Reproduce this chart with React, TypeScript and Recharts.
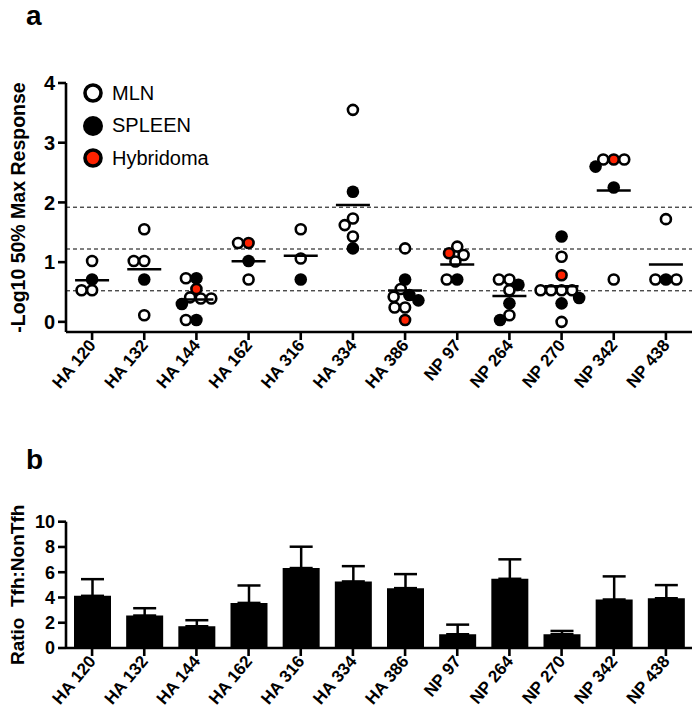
import React from "react";
import {
  ScatterChart, Scatter, BarChart, Bar, ErrorBar, XAxis, YAxis, ReferenceLine, Legend,
} from "recharts";

const FONT = '"Liberation Sans", Arial, Helvetica, sans-serif';
const RED = "#ff2200";

const CATEGORIES = [
  "HA 120", "HA 132", "HA 144", "HA 162", "HA 316", "HA 334",
  "HA 386", "NP 97", "NP 264", "NP 270", "NP 342", "NP 438",
];

// panel a: -log10 50% max response per clone, grouped by peptide
const MLN = [
  [1.02, 0.53, 0.53],
  [1.55, 1.02, 1.02, 0.11],
  [0.73, 0.41, 0.39, 0.39, 0.03],
  [1.32, 0.71],
  [1.55, 1.06],
  [3.55, 1.73, 1.62, 1.43],
  [1.23, 0.55, 0.42, 0.24, 0.24],
  [1.26, 1.12, 1.01, 0.71],
  [0.71, 0.71, 0.53, 0.11],
  [1.09, 0.53, 0.53, 0.53, 0.53, 0.0],
  [2.72, 2.72, 0.71],
  [1.72, 0.71, 0.71],
];
const SPLEEN = [
  [0.71],
  [0.71],
  [0.73, 0.3, 0.03],
  [1.02],
  [0.71],
  [2.18, 1.23],
  [0.71, 0.45, 0.36],
  [0.71],
  [0.62, 0.31, 0.03],
  [1.43, 0.4, 0.31],
  [2.6, 2.25],
  [0.71],
];
const HYBRIDOMA = [
  [], [], [0.55], [1.32], [], [], [0.03], [1.15], [], [0.78], [2.72], [],
];
const THRESHOLDS = [1.92, 1.22, 0.52];
const Y_TICKS_A = [0, 1, 2, 3, 4];

// panel b: Tfh / non-Tfh ratio, mean and upper error
const RATIO = [4.13, 2.57, 1.72, 3.57, 6.33, 5.27, 4.74, 1.09, 5.48, 1.09, 3.84, 3.94];
const RATIO_ERR = [1.32, 0.58, 0.48, 1.38, 1.69, 1.21, 1.11, 0.76, 1.54, 0.26, 1.83, 1.04];
const Y_TICKS_B = [0, 2, 4, 6, 8, 10];

const LEGEND = [
  { label: "MLN", kind: "open" },
  { label: "SPLEEN", kind: "filled" },
  { label: "Hybridoma", kind: "red" },
];

// simple beeswarm so dots in a column don't sit on top of each other
const PX_X = 626 / 12;
const PX_Y = 249 / 4.17;
const DOT = 10.5;

function swarm(values: number[]): number[] {
  const order = values.map((_, i) => i).sort((a, b) => values[b] - values[a]);
  const placed: { x: number; y: number }[] = [];
  const out = new Array(values.length).fill(0);
  for (const i of order) {
    const y = values[i] * PX_Y;
    const cands = [0];
    for (const p of placed) {
      const dy = Math.abs(y - p.y);
      if (dy < DOT) {
        const dx = Math.sqrt(DOT * DOT - dy * dy);
        cands.push(p.x - dx, p.x + dx);
      }
    }
    cands.sort((a, b) => Math.abs(a) - Math.abs(b));
    const x =
      cands.find((c) => placed.every((p) => (c - p.x) ** 2 + (y - p.y) ** 2 >= DOT * DOT - 0.01)) ?? 0;
    placed.push({ x, y });
    out[i] = x / PX_X;
  }
  return out;
}

type Pt = { x: number; y: number };
const mlnPts: Pt[] = [];
const spleenPts: Pt[] = [];
const hybPts: Pt[] = [];
const meanPts: Pt[] = [];

CATEGORIES.forEach((_, c) => {
  // hybridoma first so it wins the centre slot on ties
  const off = swarm([...HYBRIDOMA[c], ...SPLEEN[c], ...MLN[c]]);
  let k = 0;
  HYBRIDOMA[c].forEach((v) => hybPts.push({ x: c + off[k++], y: v }));
  SPLEEN[c].forEach((v) => spleenPts.push({ x: c + off[k++], y: v }));
  MLN[c].forEach((v) => mlnPts.push({ x: c + off[k++], y: v }));
  const pooled = [...MLN[c], ...SPLEEN[c]];
  meanPts.push({ x: c, y: pooled.reduce((s, v) => s + v, 0) / pooled.length });
});

const barRows = CATEGORIES.map((name, i) => ({ name, value: RATIO[i], err: [0, RATIO_ERR[i]] }));

const axisStroke = { stroke: "#000", strokeWidth: 2.6 };

function SlantTick(props: any) {
  const { x, y, text } = props;
  return (
    <text
      x={x}
      y={y}
      dy={6}
      transform={`rotate(-50, ${x}, ${y})`}
      textAnchor="end"
      fontFamily={FONT}
      fontSize={17}
      fontWeight="bold"
      fill="#000"
    >
      {text}
    </text>
  );
}

function YTick(props: any) {
  const { x, y, payload, size } = props;
  return (
    <text x={x} y={y} dy={size * 0.36} textAnchor="end" fontFamily={FONT} fontSize={size} fontWeight="bold" fill="#000">
      {payload.value}
    </text>
  );
}

const yTitle = (text: string, size: number) => (props: any) => {
  const vb = props.viewBox || { y: 0, height: 0 };
  const cx = 18;
  const cy = vb.y + vb.height / 2;
  return (
    <text
      x={cx}
      y={cy}
      transform={`rotate(-90, ${cx}, ${cy})`}
      textAnchor="middle"
      dominantBaseline="central"
      fontFamily={FONT}
      fontSize={size}
      fontWeight="bold"
      fill="#000"
      style={{ whiteSpace: "pre" }}
    >
      {text}
    </text>
  );
};

function LegendMarker({ kind }: { kind: string }) {
  if (kind === "filled") return <circle cx={13} cy={13} r={10} fill="#000" />;
  return <circle cx={13} cy={13} r={8} fill={kind === "red" ? RED : "#fff"} stroke="#000" strokeWidth={3.6} />;
}

const legendContent = () => (
  <div style={{ fontFamily: FONT, fontSize: 20, color: "#000" }}>
    {LEGEND.map((item) => (
      <div key={item.label} style={{ display: "flex", alignItems: "center", height: 32.5 }}>
        <svg width={26} height={26}>
          <LegendMarker kind={item.kind} />
        </svg>
        <span style={{ marginLeft: 6 }}>{item.label}</span>
      </div>
    ))}
  </div>
);

const titleStyle: React.CSSProperties = {
  position: "absolute",
  left: 26,
  fontFamily: FONT,
  fontWeight: "bold",
  fontSize: 28,
};

export default function App() {
  return (
    <div style={{ position: "absolute", left: 0, top: 0, width: 697, height: 718, background: "#fff" }}>
      <div style={{ ...titleStyle, top: 0 }}>a</div>
      <div style={{ position: "absolute", left: 0, top: 0 }}>
        <ScatterChart width={697} height={420} margin={{ top: 83, right: 5, bottom: 0, left: 0 }}>
          <XAxis
            type="number"
            dataKey="x"
            domain={[-0.5, 11.5]}
            ticks={CATEGORIES.map((_, i) => i)}
            interval={0}
            height={88}
            tickSize={8}
            axisLine={axisStroke}
            tickLine={axisStroke}
            tick={(p: any) => <SlantTick x={p.x} y={p.y} text={CATEGORIES[p.payload.value]} />}
          />
          <YAxis
            type="number"
            dataKey="y"
            domain={[-0.17, 4]}
            allowDataOverflow
            ticks={Y_TICKS_A}
            width={66}
            tickSize={8}
            tickMargin={3}
            axisLine={axisStroke}
            tickLine={axisStroke}
            tick={(p: any) => <YTick {...p} size={20} />}
            label={yTitle("-Log10 50% Max Response", 19.5)}
          />
          {THRESHOLDS.map((t) => (
            <ReferenceLine key={t} y={t} stroke="#000" strokeWidth={1} strokeDasharray="4 3" />
          ))}
          <Legend
            layout="vertical"
            align="center"
            verticalAlign="middle"
            wrapperStyle={{ left: 80, top: 77, width: 160 }}
            content={legendContent}
          />
          <Scatter
            name="MLN"
            data={mlnPts}
            isAnimationActive={false}
            shape={(p: any) => <circle cx={p.cx} cy={p.cy} r={5} fill="#fff" stroke="#000" strokeWidth={2.6} />}
          />
          <Scatter
            name="SPLEEN"
            data={spleenPts}
            isAnimationActive={false}
            shape={(p: any) => <circle cx={p.cx} cy={p.cy} r={6.3} fill="#000" />}
          />
          <Scatter
            name="Hybridoma"
            data={hybPts}
            isAnimationActive={false}
            shape={(p: any) => <circle cx={p.cx} cy={p.cy} r={5} fill={RED} stroke="#000" strokeWidth={2.6} />}
          />
          <Scatter
            name="mean"
            data={meanPts}
            isAnimationActive={false}
            shape={(p: any) => (
              <line x1={p.cx - 17} x2={p.cx + 17} y1={p.cy} y2={p.cy} stroke="#000" strokeWidth={2.5} />
            )}
          />
        </ScatterChart>
      </div>

      <div style={{ ...titleStyle, top: 444 }}>b</div>
      <div style={{ position: "absolute", left: 0, top: 430 }}>
        <BarChart width={697} height={288} data={barRows} margin={{ top: 91.7, right: 5, bottom: 0, left: 0 }}>
          <XAxis
            dataKey="name"
            interval={0}
            height={70}
            tickSize={8}
            axisLine={axisStroke}
            tickLine={axisStroke}
            tick={(p: any) => <SlantTick x={p.x} y={p.y} text={p.payload.value} />}
          />
          <YAxis
            type="number"
            domain={[0, 10]}
            ticks={Y_TICKS_B}
            width={66}
            tickSize={8}
            tickMargin={3}
            axisLine={axisStroke}
            tickLine={axisStroke}
            tick={(p: any) => <YTick {...p} size={18} />}
            label={yTitle("Ratio  Tfh:NonTfh", 19)}
          />
          <Bar dataKey="value" fill="#000" barSize={37} isAnimationActive={false}>
            <ErrorBar dataKey="err" width={11.5} stroke="#000" strokeWidth={2.5} direction="y" />
          </Bar>
        </BarChart>
      </div>
    </div>
  );
}
